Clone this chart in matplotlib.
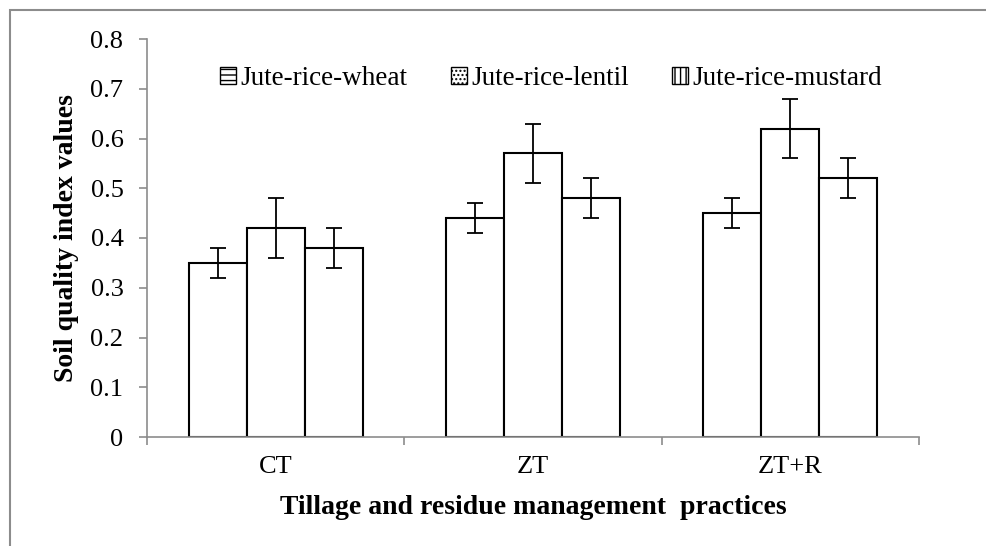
import matplotlib
matplotlib.use("Agg")
import matplotlib.pyplot as plt
import numpy as np
from matplotlib.patches import Patch, Rectangle

categories = ["CT", "ZT", "ZT+R"]
series = ["Jute-rice-wheat", "Jute-rice-lentil", "Jute-rice-mustard"]
values = {
    "Jute-rice-wheat": [0.35, 0.44, 0.45],
    "Jute-rice-lentil": [0.42, 0.57, 0.62],
    "Jute-rice-mustard": [0.38, 0.48, 0.52],
}
errors = {
    "Jute-rice-wheat": [0.03, 0.03, 0.03],
    "Jute-rice-lentil": [0.06, 0.06, 0.06],
    "Jute-rice-mustard": [0.04, 0.04, 0.04],
}
yticks = [0, 0.1, 0.2, 0.3, 0.4, 0.5, 0.6, 0.7, 0.8]

plt.rcParams['font.family'] = ['Liberation Serif', 'DejaVu Serif']

fig = plt.figure(figsize=(9.87, 5.46), dpi=100)
fig.patches.append(Rectangle((10/987, -0.1), 1.2, (536/546) + 0.1, transform=fig.transFigure,
                             fill=False, edgecolor='#8c8c8c', linewidth=1.5))
ax = fig.add_axes([147/987, 109/546, 772/987, 398/546])

x = np.arange(len(categories))
w = 0.225
offsets = [-w, 0, w]
for s, off in zip(series, offsets):
    ax.bar(x + off, values[s], w, color='white', edgecolor='black', linewidth=1.5,
           yerr=errors[s], capsize=6, error_kw=dict(elinewidth=1.3, capthick=1.3, ecolor='black'))

ax.set_xlim(-0.5, 2.5)
ax.set_ylim(0, 0.8)
ax.set_yticks(yticks)
ax.set_yticklabels([f"{t:g}" for t in yticks])
ax.set_xticks(x)
ax.set_xticklabels(categories)
ax.set_xticks([-0.5, 0.5, 1.5, 2.5], minor=True)
ax.tick_params(axis='x', which='major', length=0, labelsize=19, pad=14)
ax.tick_params(axis='x', which='minor', length=6, color='#8c8c8c', width=1.2, direction='out')
ax.tick_params(axis='y', length=6, color='#8c8c8c', width=1.2, labelsize=19, pad=11)
for sp in ['top', 'right']:
    ax.spines[sp].set_visible(False)
for sp in ['left', 'bottom']:
    ax.spines[sp].set_color('#8c8c8c')
    ax.spines[sp].set_linewidth(1.2)

ax.set_ylabel("Soil quality index values", fontsize=20, fontweight='bold', labelpad=8)
ax.set_xlabel("Tillage and residue management  practices", fontsize=20, fontweight='bold', labelpad=12)

handles = [
    Patch(facecolor='white', edgecolor='black', hatch='---', label=series[0]),
    Patch(facecolor='white', edgecolor='black', hatch='....', label=series[1]),
    Patch(facecolor='white', edgecolor='black', hatch='|||', label=series[2]),
]
ax.legend(handles=handles, loc='upper center', bbox_to_anchor=(551/987, 1 - 42/546),
          bbox_transform=fig.transFigure, ncol=3, frameon=False,
          fontsize=19.5, handlelength=0.6, handleheight=0.6, handletextpad=0.15, columnspacing=1.6)

fig.savefig("out.png", dpi=100)
